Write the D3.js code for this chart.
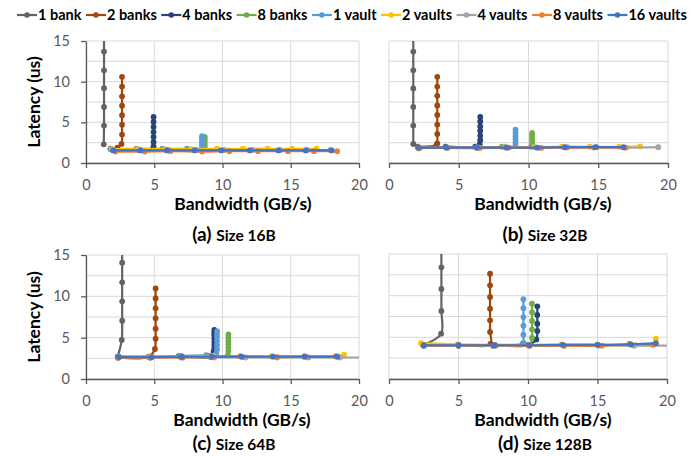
<!DOCTYPE html>
<html lang="en">
<head>
<meta charset="UTF-8">
<title>Latency vs Bandwidth</title>
<script src="https://d3js.org/d3.v7.min.js"></script>
<style>
  body { margin: 0; background: white; font-family: Lato, "Open Sans", sans-serif; }
  .grid line { stroke: #d9d9d9; stroke-width: 1; }
  .axis path, .axis line { stroke: #595959; stroke-width: 1.3; }
  .axis text { fill: #595959; font-size: 14.5px; font-family: Lato, sans-serif; }
  .title { font-weight: bold; font-size: 17.5px; fill: #000; }
  .legend text { font-weight: bold; font-size: 14.5px; fill: #000; }
  .caption { font-weight: bold; fill: #000; }
</style>
</head>
<body>
<svg id="svg" width="696" height="456"></svg>
<script>
// series
const seriesNames = ["1 bank", "2 banks", "4 banks", "8 banks", "1 vault", "2 vaults", "4 vaults", "8 vaults", "16 vaults"];
const seriesColours = ["#636363", "#9e480e", "#264478", "#70ad47", "#5b9bd5", "#ffc000", "#a5a5a5", "#ed7d31", "#4472c4"];

// axis ticks
const xTicks = [0, 5, 10, 15, 20];
const yTicks = [0, 5, 10, 15];
const yGrid = [0, 2.5, 5, 7.5, 10, 12.5, 15];

// [bandwidth GB/s, latency us] per series, in series order
const size16 = [
  [[1.3,2.3],[1.32,4.6],[1.32,6.9],[1.32,9.2],[1.32,11.4],[1.32,13.7],[1.32,16.0],[1.32,18.3]],
  [[1.8,1.75],[2.3,1.9],[2.6,2.35],[2.64,3.5],[2.64,4.7],[2.64,5.87],[2.64,7.05],[2.64,8.2],[2.64,9.4],[2.64,10.6]],
  [[2.0,1.6],[3.9,1.6],[4.9,1.7],[4.95,2.05],[4.95,2.58],[4.95,3.2],[4.95,3.8],[4.95,4.43],[4.95,5.04],[4.95,5.66]],
  [[1.9,1.65],[3.9,1.65],[5.8,1.65],[7.8,1.65],[8.7,1.8],[8.7,2.1],[8.7,2.4],[8.7,2.7],[8.7,3.0],[8.7,3.2]],
  [[1.8,1.7],[3.7,1.75],[5.6,1.75],[7.4,1.75],[8.5,1.8],[8.5,2.1],[8.5,2.4],[8.5,2.7],[8.5,3.0],[8.5,3.3]],
  [[1.9,1.7],[3.8,1.7],[5.8,1.7],[7.7,1.7],[9.6,1.75],[11.5,1.75],[13.3,1.75],[15.1,1.75],[16.9,1.75]],
  [[2.0,1.6],[4.0,1.6],[6.0,1.6],[8.1,1.6],[10.1,1.6],[12.2,1.6],[14.2,1.6],[16.2,1.6],[17.9,1.6]],
  [[2.15,1.4],[4.3,1.4],[6.2,1.45],[8.5,1.4],[10.5,1.45],[12.6,1.45],[14.8,1.45],[16.7,1.45],[18.4,1.45]],
  [[1.98,1.55],[3.98,1.55],[5.93,1.55],[7.96,1.55],[9.9,1.55],[12.0,1.55],[14.1,1.55],[16.1,1.55],[18.0,1.55]]
];
const size32 = [
  [[1.74,2.34],[1.74,4.6],[1.74,6.9],[1.74,9.16],[1.74,11.4],[1.74,13.7],[1.74,16.0],[1.74,18.3]],
  [[2.05,2.0],[3.4,2.2],[3.46,2.42],[3.46,3.57],[3.46,4.72],[3.46,5.9],[3.46,7.07],[3.46,8.26],[3.46,9.4],[3.46,10.6]],
  [[2.13,1.8],[4.06,2.0],[6.18,2.0],[6.5,2.3],[6.54,2.8],[6.54,3.37],[6.54,3.95],[6.54,4.5],[6.54,5.1],[6.54,5.67]],
  [[2.1,1.9],[4.1,1.9],[6.3,1.85],[8.1,2.0],[10.2,2.0],[10.26,2.3],[10.26,2.6],[10.26,2.9],[10.26,3.2],[10.26,3.5],[10.26,3.7]],
  [[2.1,1.9],[4.1,1.95],[6.3,1.95],[8.3,2.0],[9.07,2.1],[9.07,2.5],[9.07,2.9],[9.07,3.3],[9.07,3.7],[9.07,4.1]],
  [[2.1,1.85],[4.2,1.85],[6.5,1.8],[8.3,1.95],[10.4,1.95],[12.4,2.0],[14.4,2.0],[16.5,2.0],[18.0,2.05]],
  [[2.1,1.85],[4.2,1.9],[6.4,1.85],[8.5,1.9],[10.7,1.9],[12.8,1.95],[14.9,1.95],[17.0,1.9],[19.3,1.95]],
  [[2.2,1.85],[4.2,1.9],[6.5,1.9],[8.6,1.9],[10.9,1.85],[12.7,1.9],[14.7,1.9],[16.9,1.9]],
  [[2.1,1.9],[4.1,1.9],[6.3,1.9],[8.4,1.9],[10.6,1.9],[12.6,1.95],[14.8,1.95],[16.8,1.95]]
];
const size64 = [
  [[2.32,2.7],[2.62,4.72],[2.65,7.05],[2.65,9.4],[2.65,11.7],[2.65,14.06],[2.65,16.4]],
  [[2.35,2.6],[4.59,2.7],[5.05,3.63],[5.1,4.87],[5.1,6.08],[5.1,7.34],[5.1,8.55],[5.1,9.75],[5.1,10.96]],
  [[4.7,2.6],[6.8,2.75],[9.1,2.7],[9.35,3.3],[9.4,3.7],[9.4,4.1],[9.4,4.5],[9.4,4.9],[9.4,5.3],[9.4,5.6],[9.4,5.95]],
  [[2.4,2.7],[4.7,2.7],[6.9,2.75],[9.0,2.8],[10.4,2.9],[10.43,3.4],[10.43,3.8],[10.43,4.2],[10.43,4.6],[10.43,5.0],[10.43,5.4]],
  [[2.4,2.7],[4.7,2.7],[7.0,2.8],[8.8,2.9],[9.55,3.1],[9.6,3.6],[9.6,4.1],[9.6,4.6],[9.6,5.1],[9.6,5.5],[9.6,5.8]],
  [[2.4,2.65],[4.7,2.7],[7.0,2.75],[9.3,2.8],[11.5,2.65],[13.6,2.75],[16.0,2.75],[18.5,2.7],[18.9,2.95]],
  [[2.4,2.6],[4.8,2.6],[7.0,2.6],[9.4,2.6],[11.7,2.6],[14.0,2.6],[16.3,2.6],[18.6,2.6],[20.5,2.6]],
  [[2.35,2.55],[4.7,2.6],[7.1,2.6],[9.3,2.65],[11.3,2.75],[14.0,2.65],[16.1,2.7],[18.3,2.75]],
  [[2.4,2.65],[4.8,2.65],[7.0,2.7],[9.2,2.7],[11.4,2.7],[13.7,2.7],[16.0,2.7],[18.4,2.7]]
];
const size128 = [
  [[2.45,4.08],[3.75,5.44],[3.77,8.16],[3.77,10.8],[3.77,13.4],[3.77,16.0]],
  [[2.5,4.1],[4.96,4.1],[7.3,4.2],[7.27,5.64],[7.27,7.04],[7.27,8.44],[7.27,9.84],[7.27,11.24],[7.27,12.64]],
  [[2.5,4.0],[5.0,4.0],[7.5,4.0],[10.0,4.1],[10.6,4.75],[10.67,5.76],[10.67,6.64],[10.67,7.68],[10.67,8.72]],
  [[2.5,4.05],[5.0,4.05],[7.6,4.05],[10.1,4.1],[10.29,4.96],[10.29,5.95],[10.29,6.96],[10.29,8.0],[10.29,9.04]],
  [[2.5,4.1],[5.0,4.1],[7.6,4.1],[9.6,4.2],[9.67,4.32],[9.67,5.32],[9.67,6.4],[9.67,7.43],[9.67,8.5],[9.67,9.57]],
  [[2.3,4.3],[4.9,4.15],[7.7,4.0],[10.1,4.1],[12.4,4.15],[15.0,4.15],[17.7,4.05],[19.2,4.24],[19.2,4.84]],
  [[2.5,4.0],[5.0,4.0],[7.6,4.0],[10.1,4.0],[12.6,4.0],[15.1,4.0],[17.6,4.0],[20.2,4.0]],
  [[2.5,4.05],[5.0,4.05],[7.6,4.05],[10.1,4.0],[12.6,4.0],[15.3,4.0],[17.3,4.2],[19.0,4.1]],
  [[2.5,4.05],[5.0,4.05],[7.6,4.05],[10.1,4.05],[12.5,4.1],[15.0,4.1],[17.4,4.15],[19.2,4.3]]
];

const panelLetters = ["(a)", "(b)", "(c)", "(d)"];
const panelSizes = ["Size 16B", "Size 32B", "Size 64B", "Size 128B"];

// layout of the four plots
const panels = [
  { data: size16,  left: 86,  right: 359, top: 41,  bottom: 163, yAxis: true,  titleX: 243, capX: 234, capY: 241 },
  { data: size32,  left: 389, right: 668, top: 41,  bottom: 163, yAxis: false, titleX: 543, capX: 545, capY: 241 },
  { data: size64,  left: 86,  right: 359, top: 255, bottom: 379, yAxis: true,  titleX: 242, capX: 234, capY: 450 },
  { data: size128, left: 389, right: 667, top: 254, bottom: 379, yAxis: false, titleX: 543, capX: 545, capY: 450 }
];

const svg = d3.select("#svg");
const line = d3.line().curve(d3.curveCatmullRom.alpha(0.5));

panels.forEach((p, pi) => {
  const x = d3.scaleLinear().domain([0, 20]).range([p.left, p.right]);
  const y = d3.scaleLinear().domain([0, 15]).range([p.bottom, p.top]);
  const g = svg.append("g");

  // gridlines
  const grid = g.append("g").attr("class", "grid");
  grid.selectAll(".h").data(yGrid).join("line")
    .attr("x1", p.left).attr("x2", p.right)
    .attr("y1", d => y(d)).attr("y2", d => y(d));
  grid.selectAll(".v").data(xTicks).join("line")
    .attr("x1", d => x(d)).attr("x2", d => x(d))
    .attr("y1", p.top).attr("y2", p.bottom);

  // clip to plot area
  const clipId = "clip" + pi;
  g.append("clipPath").attr("id", clipId).append("rect")
    .attr("x", p.left).attr("y", p.top)
    .attr("width", p.right - p.left).attr("height", p.bottom - p.top);

  const plot = g.append("g").attr("clip-path", `url(#${clipId})`);
  p.data.forEach((pts, si) => {
    plot.append("path")
      .attr("d", line(pts.map(d => [x(d[0]), y(d[1])])))
      .attr("fill", "none")
      .attr("stroke", seriesColours[si])
      .attr("stroke-width", 2.2);
    plot.selectAll(null).data(pts).join("circle")
      .attr("cx", d => x(d[0]))
      .attr("cy", d => y(d[1]))
      .attr("r", 2.9)
      .attr("fill", seriesColours[si]);
  });

  // x axis
  const xa = g.append("g").attr("class", "axis")
    .attr("transform", `translate(0,${p.bottom})`)
    .call(d3.axisBottom(x).tickValues(xTicks).tickSize(5).tickSizeOuter(0).tickPadding(12));
  xa.select(".domain").attr("stroke", "#404040");

  if (p.yAxis) {
    g.append("g").attr("class", "axis")
      .attr("transform", `translate(${p.left},0)`)
      .call(d3.axisLeft(y).tickValues(yTicks).tickSize(5).tickSizeOuter(0).tickPadding(11));
    g.append("text").attr("class", "title")
      .attr("transform", `translate(${p.left - 46},${(p.top + p.bottom) / 2}) rotate(-90)`)
      .attr("text-anchor", "middle")
      .text("Latency (us)");
  }

  g.append("text").attr("class", "title")
    .attr("x", p.titleX).attr("y", p.bottom + 47)
    .attr("text-anchor", "middle")
    .text("Bandwidth (GB/s)");

  const cap = g.append("text").attr("class", "caption")
    .attr("x", p.capX).attr("y", p.capY)
    .attr("text-anchor", "middle");
  cap.append("tspan").attr("font-size", "19px").text(panelLetters[pi] + " ");
  cap.append("tspan").attr("font-size", "15.5px").text(panelSizes[pi]);
});

// legend
const legend = svg.append("g").attr("class", "legend");
let lx = 17;
seriesNames.forEach((name, i) => {
  const item = legend.append("g");
  item.append("line")
    .attr("x1", lx).attr("x2", lx + 20).attr("y1", 15).attr("y2", 15)
    .attr("stroke", seriesColours[i]).attr("stroke-width", 2.2);
  item.append("circle").attr("cx", lx + 10).attr("cy", 15).attr("r", 2.8)
    .attr("fill", seriesColours[i]);
  const t = item.append("text").attr("x", lx + 21).attr("y", 20).text(name);
  lx += 21 + t.node().getComputedTextLength() + 4.5;
});
</script>
</body>
</html>
